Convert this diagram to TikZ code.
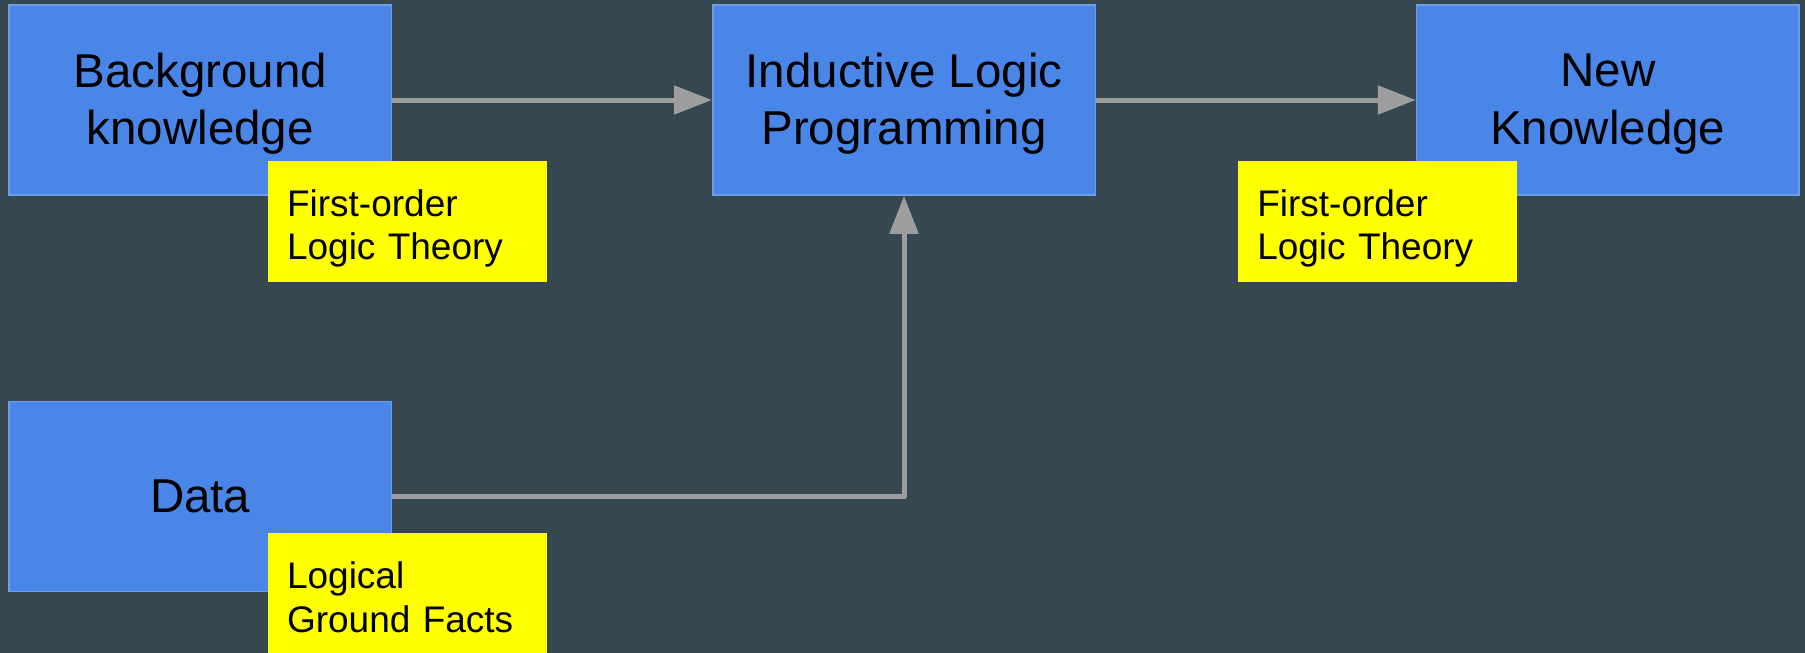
\documentclass[tikz,border=0pt]{standalone}
\usepackage{fontspec}
\setmainfont{Liberation Sans}
\usetikzlibrary{arrows.meta}
\definecolor{bgc}{HTML}{37474F}
\definecolor{boxblue}{HTML}{4A86E8}
\definecolor{boxedge}{HTML}{6D9EEB}
\definecolor{notey}{HTML}{FFFF00}
\definecolor{arrowgray}{HTML}{9E9E9E}
\begin{document}
\begin{tikzpicture}[x=1pt,y=-1pt,
  bluebox/.style={draw=boxedge, line width=1.5pt, fill=boxblue, inner sep=0pt,
    minimum width=382.5pt, minimum height=190pt,
    align=center, font=\fontsize{47.5}{57.5}\selectfont, text depth=2pt},
  note/.style={fill=notey, inner sep=0pt, minimum width=278.5pt, minimum height=120.7pt,
    text width=240.5pt, align=left, font=\fontsize{37}{43.5}\selectfont,
    text height=27pt, text depth=36.8pt},
  flow/.style={draw=arrowgray, line width=5pt, -{Triangle[length=38pt,width=28pt]}, line join=round}]
\useasboundingbox (0,0) rectangle (1805,653);
\fill[bgc] (0,0) rectangle (1805,653);

\node[bluebox] (bk) at (200.25,100) {Background\\knowledge};
\node[bluebox] (ilp) at (904,100) {Inductive Logic\\Programming};
\node[bluebox] (nk) at (1607.8,100) {New\\Knowledge};
\node[bluebox, text depth=0pt] (data) at (200.25,496.5) {Data};

\node[note] (n1) at (407.3,221.35) {First-order\\Logic Theory};
\node[note] (n2) at (1377.5,221.35) {First-order\\Logic Theory};
\node[note] (n3) at (407.3,593.4) {Logical\\Ground Facts};

\draw[flow] (bk.east) -- (ilp.west);
\draw[flow] (ilp.east) -- (nk.west);
\draw[flow] (data.east) -| (ilp.south);
\end{tikzpicture}
\end{document}
